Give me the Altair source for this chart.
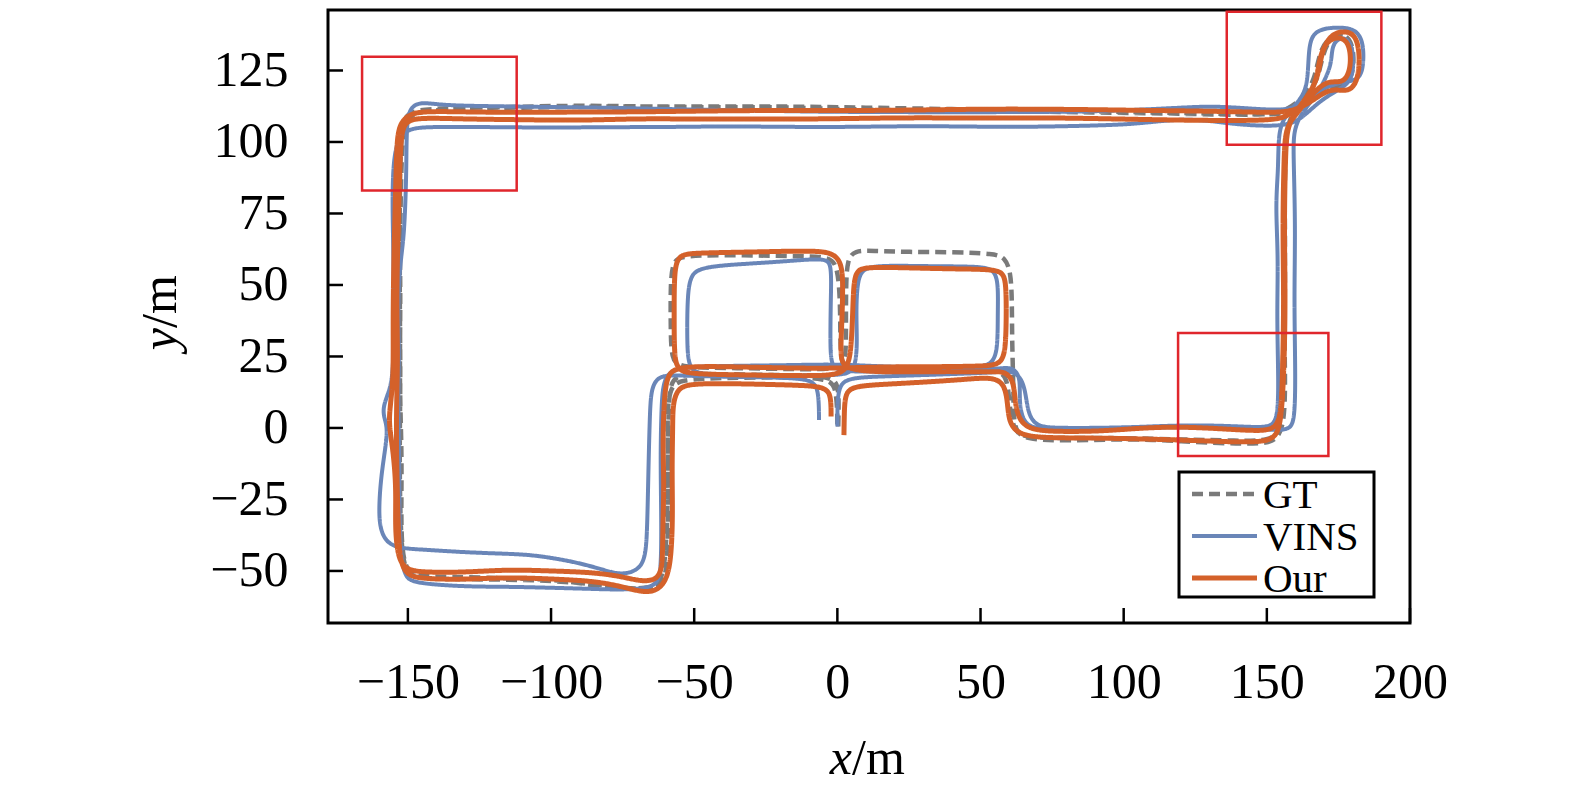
import altair as alt
import pandas as pd

SERIES = ["GT", "VINS", "Our"]
COLORS = ["#7a7a7a", "#6a86b8", "#d4612a"]
DASHES = [[11, 6], [1, 0], [1, 0]]
WIDTHS = [4.5, 4, 5]

gt_path = [
    (0.3, 0.5), (0.5, 8), (0.3, 15), (-2, 18.2),
    (-20, 18.5), (-40, 18.8), (-55, 19), (-58.5, 16),
    (-59, 5), (-59.3, -15), (-59, -30), (-59.5, -45), (-60, -52.5), (-63, -55.8),
    (-75, -56.5), (-85, -55), (-100, -52.8), (-120, -52.5), (-135, -52), (-147, -52), (-151.5, -49),
    (-152.5, -35), (-152, -10), (-153, 15), (-152.5, 45), (-153, 75), (-152.5, 100), (-151.5, 108.5), (-148, 111.8),
    (-120, 112), (-95, 112.8), (-70, 112.5), (-45, 112), (-20, 112.3), (0, 111.5), (30, 111), (60, 110.8),
    (90, 110.3), (115, 110), (135, 109.5), (150, 109.5), (156, 110.5),
    (163, 115.5), (167.5, 121), (169, 128), (171, 135), (175, 138), (179, 136.5), (180.5, 131), (180, 123),
    (177, 119.5), (171, 120), (166, 117), (160, 112), (157, 106),
    (156.5, 95), (156, 75), (156.5, 55), (156, 35), (156.5, 15), (156, 2), (154, -3.5), (150, -5.5),
    (140, -5.5), (125, -5), (110, -4), (95, -4), (80, -4.5), (67, -4), (62.5, -2), (61.5, 4),
    (61.5, 15), (61, 30), (61, 45), (60.5, 55), (58.5, 59.5), (55, 61),
    (40, 61.5), (25, 61.5), (12, 62), (6, 62), (3.5, 59),
    (3, 50), (3, 35), (3, 24), (1, 20.5),
    (-15, 20.5), (-35, 21), (-55, 21), (-58, 24),
    (-58.2, 35), (-58.3, 50), (-57.5, 58.5), (-54, 60.3),
    (-35, 60.5), (-15, 60), (-3, 60), (0, 57),
    (1, 45), (1, 30), (1.5, 22), (4, 20.5),
    (20, 20.8), (40, 21), (55, 21), (59.5, 18),
    (60, 8), (61.5, 0), (64, -3.5),
    (80, -3.5), (100, -3.5), (120, -4), (140, -4.5), (151, -4.5), (155, -1),
    (155.5, 15), (156, 40), (156.5, 65), (156, 90), (156.5, 104), (159, 110),
    (164, 117), (167, 123), (168.5, 132), (172, 137), (177, 137.5), (180, 134), (180, 124), (177, 119),
    (170, 119), (164, 114), (158, 110), (150, 109.5),
    (130, 110), (100, 110.5), (70, 111), (40, 111.5), (10, 112), (-20, 112.5), (-50, 112.3), (-80, 112.5),
    (-110, 112), (-140, 111.5), (-149, 110), (-152, 105),
    (-152.5, 80), (-153, 50), (-152.5, 20), (-153, -10), (-152.5, -40), (-151, -50), (-148, -52.5),
    (-130, -53), (-110, -53), (-90, -54), (-75, -56), (-65, -56.5), (-60.5, -53),
    (-59.5, -35), (-59, -15), (-59.5, 5), (-58.5, 14), (-55, 17),
    (-40, 17.5), (-20, 17.8), (-3, 17.5), (-0.5, 14),
    (0, 5), (0, 0.5),
]

vins_path = [
    (0, 0.5), (0, 8), (0.5, 14), (3, 17.5),
    (15, 18), (30, 18.5), (45, 19), (56, 19.5), (62, 20), (65, 16),
    (66, 10), (67, 4), (70, 0.5), (76, 0),
    (90, 0), (105, 0.3), (120, 1), (135, 0.8), (145, 0.3), (151, 0.3), (154, 3),
    (154, 20), (153.5, 40), (154, 60), (153, 78), (154, 90), (154, 102), (155.5, 108),
    (160, 113), (164, 118), (164.5, 128), (165, 136), (168, 139.5), (175, 140.2), (181, 139.5),
    (183.8, 135), (183.8, 126), (182, 121.5), (176, 121), (170, 119), (164, 114.5), (158, 111.2),
    (150, 111.3), (140, 112), (130, 112.5), (120, 112), (100, 111), (80, 110.5), (60, 110.5),
    (40, 110.3), (20, 110.5), (0, 110.5), (-20, 110.8), (-40, 111.2), (-60, 111.5), (-80, 112),
    (-100, 112.2), (-120, 112.5), (-138, 112.8), (-145, 114), (-149, 112.5), (-150.5, 107),
    (-150.5, 90), (-151, 75), (-151.6, 65), (-153, 55), (-153.5, 40), (-153, 25), (-153.5, 10),
    (-153, -10), (-153, -30), (-152.5, -45), (-151, -52), (-148, -54.3),
    (-130, -55.5), (-115, -55.5), (-99, -55.9), (-85, -56.3), (-75, -56.6), (-66, -56), (-62.5, -54), (-61.5, -48),
    (-61.5, -30), (-61.8, -10), (-61.5, 5), (-61, 16), (-58, 21),
    (-45, 21.6), (-30, 21.8), (-15, 22), (0, 22.3), (15, 21.5), (35, 21), (50, 21.3), (54, 22.5), (56, 27),
    (56, 40), (56.2, 50), (55, 55), (51, 56.5), (35, 56.5), (20, 56.8), (10, 56.5), (7, 53),
    (6.5, 40), (7, 28), (6, 20.5), (3, 18.5), (-10, 18.2), (-30, 18.3), (-48, 18.5), (-52, 21),
    (-52.5, 30), (-52.4, 45), (-51.5, 53), (-48, 56.4),
    (-30, 57.5), (-15, 58.5), (-4, 59.4), (-2, 57), (-2.3, 45), (-2.5, 30), (-2.2, 22), (0.5, 19.5),
    (20, 19.8), (40, 20), (55, 20.5), (61, 21.5), (64, 18),
    (63.5, 10), (64.5, 3), (68, -0.5), (80, -0.5), (100, -0.3), (120, 0.5), (140, 0), (152, -0.7),
    (158, -0.7), (159.8, 3),
    (160, 20), (159.5, 45), (160, 70), (159.3, 95), (159.3, 104), (162, 110),
    (167, 116), (170.5, 122), (172.7, 128), (172.7, 134), (176, 137), (179.5, 135), (180.5, 128),
    (179.5, 121), (174.5, 118), (168, 114), (162, 108), (156, 105.3),
    (140, 106), (130, 107.5), (120, 108), (110, 107), (100, 106), (80, 105.5), (60, 105.2), (40, 105.5),
    (20, 105.5), (0, 105.2), (-20, 105.3), (-40, 105.5), (-60, 105.2), (-80, 105.2), (-100, 105),
    (-120, 105.2), (-140, 105.3), (-149, 105), (-153, 102), (-155, 95),
    (-155.5, 80), (-155, 60), (-155, 40), (-155, 22), (-156, 14), (-158.6, 8), (-158.5, 4), (-157, 0),
    (-158, -8), (-159.5, -18), (-160.3, -31), (-159, -38), (-155, -42),
    (-145, -42.5), (-130, -43.5), (-115, -44), (-106, -44.4), (-92, -46.7), (-82, -49.5), (-75.7, -51.4),
    (-70, -50), (-67, -46),
    (-66.4, -35), (-66, -15), (-65.5, 5), (-65, 14), (-62.5, 18), (-58, 18.5),
    (-45, 18), (-30, 17.8), (-15, 17.5), (-8, 16.5), (-6.5, 12), (-6.4, 2.8),
]

our_path = [
    (2.3, -2.5), (2.4, 4), (2.6, 11), (4.5, 14.5),
    (15, 15.2), (30, 16), (45, 17), (54, 17.8), (58.5, 15.5),
    (59.5, 8), (60, 2), (63, -2), (70, -3.5),
    (90, -3.5), (105, -3.8), (120, -4.2), (135, -4.8), (148, -5), (153, -3.5), (155, 2),
    (156, 20), (156.5, 45), (156, 70), (156.5, 95), (157, 105), (160, 110.5),
    (165, 117), (168, 123), (169, 131), (172, 137.5), (177, 139), (181, 137.5), (182.5, 131), (182, 122),
    (179, 117.5), (174, 118.5), (170, 117.5), (164, 113), (158, 110.5),
    (150, 110.3), (130, 110.8), (110, 111), (90, 111.3), (70, 111.5), (50, 111.5), (30, 111.2), (10, 111),
    (-10, 111), (-30, 111), (-50, 110.8), (-70, 110.5), (-90, 110.5), (-110, 110.3), (-130, 110.5),
    (-145, 110.8), (-150, 109.5), (-153.5, 105.5),
    (-154, 95), (-154.5, 75), (-155, 55), (-155.2, 35), (-155, 15), (-157, 3), (-155.5, -5), (-154, -20),
    (-154.5, -35), (-153.5, -45), (-151, -49.5), (-145, -50.5),
    (-130, -50.5), (-115, -49.5), (-100, -50), (-85, -50.5), (-75, -52), (-68, -53.8), (-63, -53), (-61, -49),
    (-61, -35), (-60.5, -20), (-61, -5), (-60.5, 10), (-59.5, 18.5), (-56, 21.5),
    (-40, 21.5), (-20, 21), (-2, 20.8), (15, 21.4), (35, 21.4), (50, 21.6), (56, 22), (58.5, 25),
    (59, 35), (59, 50), (58, 54), (55, 55.5),
    (40, 55.6), (25, 56), (10, 56.3), (6, 55),
    (5.5, 45), (5, 30), (4, 22), (1, 18.5),
    (-10, 18.2), (-30, 18.5), (-50, 18.8), (-56, 20), (-57, 26),
    (-57, 40), (-57, 55), (-55.5, 60.5), (-50, 61.2),
    (-30, 61.5), (-10, 62), (-2, 61.5), (1.5, 58),
    (2, 50), (1.5, 35), (1, 25), (2.5, 20),
    (20, 19.5), (40, 19.8), (53, 19.5), (58, 20), (61.5, 17),
    (62, 10), (63, 4), (66, 0), (73, -1.3),
    (90, -1.2), (100, -0.5), (115, 0.5), (130, 0), (145, -1), (152, -0.8), (155, 3),
    (155.5, 20), (156, 45), (155.5, 70), (156, 95), (156.5, 104), (159, 108.5),
    (164, 114), (167.5, 122), (168.5, 130), (171, 135.5), (175.5, 137), (179, 134.5), (179.5, 126),
    (177, 120.5), (172, 121.5), (168, 119), (163, 113.5), (157, 108.5),
    (150, 107.5), (130, 107.5), (110, 107.8), (90, 108.2), (70, 108.5), (50, 108.3), (30, 108.5),
    (10, 108.3), (-10, 108), (-30, 108), (-50, 108), (-70, 108.2), (-90, 107.5), (-110, 107.8),
    (-130, 108), (-145, 108.5), (-151, 107.5), (-152.5, 102),
    (-153, 85), (-153.5, 65), (-154, 45), (-153.5, 25), (-154, 8), (-154, -10), (-153.5, -30),
    (-153, -45), (-151, -51), (-146, -52.8),
    (-130, -53), (-115, -52.2), (-100, -52.8), (-85, -53.5), (-75, -55.5), (-68, -57.5), (-63, -57), (-59.5, -53),
    (-58, -45), (-57.5, -30), (-57.8, -15), (-57.5, 0), (-57.5, 8), (-56, 13.5), (-52, 15.6),
    (-35, 15.5), (-15, 15), (-4, 14.5), (-2.2, 11), (-2.2, 4),
]

box_x1 = [-166.0, 136.0, 119.0]
box_x2 = [-112.0, 190.0, 171.5]
box_y1 = [83.0, 99.0, -9.8]
box_y2 = [129.8, 145.5, 33.2]

x_ticks = [-150, -100, -50, 0, 50, 100, 150, 200]
y_ticks = [-50, -25, 0, 25, 50, 75, 100, 125]

X_DOMAIN = [-177.9, 200.0]
Y_DOMAIN = [-68.2, 146.15]
W, H = 1082, 613
FONT = "Liberation Serif"
FS = 50

rows = []
for name, path in zip(SERIES, [gt_path, vins_path, our_path]):
    for i, (x, y) in enumerate(path):
        rows.append({"series": name, "i": i, "x": x, "y": y})
df = pd.DataFrame(rows)

xs = alt.Scale(domain=X_DOMAIN, nice=False, zero=False)
ys = alt.Scale(domain=Y_DOMAIN, nice=False, zero=False)
x_axis = alt.Axis(values=x_ticks, ticks=False, domain=False, grid=False, title=None,
                  labelFont=FONT, labelFontSize=FS, labelPadding=34, labelColor="black",
                  labelFlush=False, labelOverlap=False)
y_axis = alt.Axis(values=y_ticks, ticks=False, domain=False, grid=False, title=None,
                  labelFont=FONT, labelFontSize=FS, labelPadding=40, labelColor="black",
                  labelFlush=False, labelOverlap=False)

cscale = alt.Scale(domain=SERIES, range=COLORS)
dscale = alt.Scale(domain=SERIES, range=DASHES)


def traj(k):
    name = SERIES[k]
    return alt.Chart(df[df.series == name]).mark_line(
        strokeWidth=WIDTHS[k], interpolate="basis", clip=True
    ).encode(
        x=alt.X("x:Q", scale=xs, axis=x_axis),
        y=alt.Y("y:Q", scale=ys, axis=y_axis),
        color=alt.Color("series:N", scale=cscale, legend=None),
        strokeDash=alt.StrokeDash("series:N", scale=dscale, legend=None),
        order="i:Q",
    )


boxes = alt.Chart(pd.DataFrame({"x1": box_x1, "x2": box_x2, "y1": box_y1, "y2": box_y2})).mark_rect(
    fillOpacity=0, stroke="#e0262c", strokeWidth=2.5
).encode(
    x=alt.X("x1:Q", scale=xs, axis=x_axis), x2="x2:Q",
    y=alt.Y("y1:Q", scale=ys, axis=y_axis), y2="y2:Q",
)

xt = alt.Chart(pd.DataFrame({"t": x_ticks})).mark_rule(color="black", strokeWidth=2.5).encode(
    x=alt.X("t:Q", scale=xs, axis=x_axis), y=alt.value(H), y2=alt.value(H - 15)
)
yt = alt.Chart(pd.DataFrame({"t": y_ticks})).mark_rule(color="black", strokeWidth=2.5).encode(
    y=alt.Y("t:Q", scale=ys, axis=y_axis), x=alt.value(0), x2=alt.value(15)
)


def label(txt, x, y, align, italic, angle=0, size=FS):
    return alt.Chart(pd.DataFrame({"t": [txt]})).mark_text(
        font=FONT, fontSize=size, color="black", align=align, baseline="alphabetic",
        fontStyle="italic" if italic else "normal", angle=angle,
    ).encode(text="t:N", x=alt.value(x), y=alt.value(y))


titles = [
    label("x", 524, 764, "right", True),
    label("/m", 524, 764, "left", False),
    label("y", -152, 318, "right", True, 270),
    label("/m", -152, 318, "left", False, 270),
]

# legend (box, symbol lines, labels)
LEG_X0, LEG_X1, LEG_Y0, LEG_Y1 = 851, 1046, 462, 587
legend_box = alt.Chart(pd.DataFrame({"t": [0]})).mark_rect(
    fill="white", stroke="black", strokeWidth=3
).encode(x=alt.value(LEG_X0), x2=alt.value(LEG_X1), y=alt.value(LEG_Y0), y2=alt.value(LEG_Y1))

legend_layers = [legend_box]
for k, name in enumerate(SERIES):
    ry = 484 + 42 * k
    legend_layers.append(
        alt.Chart(pd.DataFrame({"t": [name]})).mark_rule(
            color=COLORS[k], strokeWidth=WIDTHS[k], strokeDash=DASHES[k]
        ).encode(x=alt.value(864), x2=alt.value(929), y=alt.value(ry))
    )
    legend_layers.append(label(name, 935, ry + 14, "left", False, size=41))

chart = alt.layer(
    traj(0), traj(1), traj(2), boxes, xt, yt, *titles, *legend_layers
).properties(
    width=W, height=H,
    autosize=alt.AutoSizeParams(type="none"),
    padding={"left": 320, "top": 2, "right": 150, "bottom": 170},
).configure_view(
    stroke="black", strokeWidth=3
)

chart.save("out.html", embed_options={"renderer": "svg", "actions": False})
